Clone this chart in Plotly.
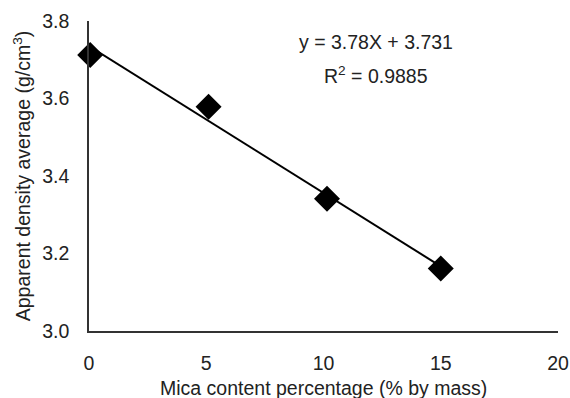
import numpy as np
import plotly.graph_objects as go

mica_pct = [0.05, 5.1, 10.15, 15.0]
density = [3.712, 3.579, 3.341, 3.161]
x_ticks = [0, 5, 10, 15, 20]
y_ticks = [3.0, 3.2, 3.4, 3.6, 3.8]
eq_text = "y = 3.78X + 3.731"
r2_text = "R<sup>2</sup> = 0.9885"
x_title = "Mica content percentage (% by mass)"
y_title = "Apparent density average (g/cm<sup>3</sup>)"

slope, intercept = np.polyfit(mica_pct, density, 1)
fit_x = np.array([0.0, max(mica_pct)])
fit_y = slope * fit_x + intercept

font = "Liberation Sans, Arial, sans-serif"
fs = 19.5
fig = go.Figure()
fig.add_trace(go.Scatter(x=fit_x, y=fit_y, mode="lines",
                         line=dict(color="black", width=2), showlegend=False,
                         cliponaxis=False))
fig.add_trace(go.Scatter(x=mica_pct, y=density, mode="markers",
                         marker=dict(symbol="diamond", size=20, color="black"),
                         showlegend=False, cliponaxis=False))

fig.add_annotation(x=0.612, y=0.932, xref="paper", yref="paper", text=eq_text,
                   yanchor="middle", showarrow=False,
                   font=dict(size=fs, color="#222", family=font))
fig.add_annotation(x=0.612, y=0.826, xref="paper", yref="paper", text=r2_text,
                   yanchor="middle", showarrow=False,
                   font=dict(size=fs, color="#222", family=font))
fig.add_annotation(x=0.5, y=-0.184, xref="paper", yref="paper", text=x_title,
                   xanchor="center", yanchor="middle", showarrow=False,
                   font=dict(size=fs, color="#222", family=font))

fig.update_layout(
    template="none",
    width=570, height=398,
    margin=dict(l=89, r=12, t=21, b=67),
    paper_bgcolor="white", plot_bgcolor="white",
    font=dict(family=font, size=fs, color="#222"),
    xaxis=dict(range=[0, 20], tickvals=x_ticks, showgrid=False, zeroline=False,
               automargin=False,
               showline=True, linecolor="#333", linewidth=1.5,
               ticks="outside", ticklen=14, tickcolor="rgba(0,0,0,0)"),
    yaxis=dict(range=[3.0, 3.8], tickvals=y_ticks, tickformat=".1f",
               showgrid=False, zeroline=False, automargin=False,
               showline=True, linecolor="#333", linewidth=1.5,
               ticks="outside", ticklen=14, tickcolor="rgba(0,0,0,0)",
               title=dict(text=y_title, standoff=6, font=dict(size=fs))),
)
fig.write_html("out.html", config={"displayModeBar": False},
               post_script="document.body.style.margin='0';document.body.style.overflow='hidden';")
